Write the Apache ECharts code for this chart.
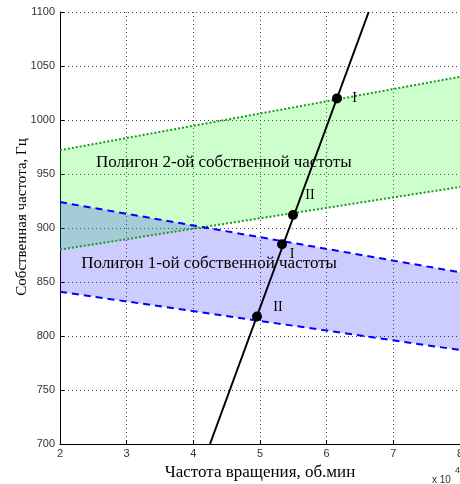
<!DOCTYPE html>
<html><head><meta charset="utf-8">
<script src="https://cdn.jsdelivr.net/npm/echarts@6/dist/echarts.min.js"></script>
<style>html,body{margin:0;padding:0;background:#fff}#c{width:460px;height:484px}</style>
</head><body><div id="c"></div>
<script>
// X in units of 10^4 rpm, Y in Hz
const xRange = [2, 8];
const yRange = [700, 1100];
const xTicks = [2, 3, 4, 5, 6, 7, 8];
const yTicks = [700, 750, 800, 850, 900, 950, 1000, 1050, 1100];

// Polygon of 2nd natural frequency (green): upper and lower boundaries
const band2Upper = [[2, 972], [8, 1040]];
const band2Lower = [[2, 880], [8, 938]];
// Polygon of 1st natural frequency (blue)
const band1Upper = [[2, 924], [8, 859]];
const band1Lower = [[2, 841], [8, 787]];

// Rotation frequency line
const rotLine = [[4.25, 700], [6.63, 1100]];
// Intersection points
const points = [[6.155, 1020], [5.495, 912], [5.33, 885], [4.955, 818]];
// Point labels
const pointLabels = [
  {pos: [6.42, 1020], text: 'I'},
  {pos: [5.75, 930], text: 'II'},
  {pos: [5.48, 876], text: 'I'},
  {pos: [5.27, 827], text: 'II'}
];
const polyLabels = [
  {pos: [2.54, 961], text: 'Полигон 2-ой собственной частоты'},
  {pos: [2.32, 867], text: 'Полигон 1-ой собственной частоты'}
];

function polygon(upper, lower) {
  return upper.concat(lower.slice().reverse());
}

const chart = echarts.init(document.getElementById('c'), null, {renderer: 'canvas'});

function polySeries(pts, color, z) {
  return {
    type: 'custom', z: z, silent: true,
    data: [0],
    renderItem: function (params, api) {
      return {
        type: 'polygon',
        shape: {points: pts.map(p => api.coord(p))},
        style: {fill: color}
      };
    },
    clip: true
  };
}
function lineSeries(data, color, type, width, z) {
  return {
    type: 'line', data: data, symbol: 'none', z: z, silent: true,
    lineStyle: {color: color, type: type, width: width}
  };
}

const serif = 'Liberation Serif';
chart.setOption({
  animation: false,
  grid: {left: 60, right: 0, top: 12, bottom: 40, containLabel: false, outerBoundsMode: 'none'},
  xAxis: {
    type: 'value', min: xRange[0], max: xRange[1], interval: 1,
    name: 'Частота вращения, об.мин', nameLocation: 'middle', nameGap: 14,
    nameTextStyle: {fontFamily: serif, fontSize: 17, color: '#000'},
    axisLine: {lineStyle: {color: '#000', width: 1}},
    axisTick: {inside: true, length: 4, lineStyle: {color: '#000'}},
    axisLabel: {color: '#333', fontFamily: 'Liberation Sans', fontSize: 11, margin: 4,
      formatter: v => xTicks.includes(v) ? String(v) : ''},
    splitLine: {show: true, lineStyle: {color: '#444', type: [1, 3], width: 1}}
  },
  yAxis: {
    type: 'value', min: yRange[0], max: yRange[1], interval: 50,
    axisLine: {show: true, lineStyle: {color: '#000', width: 1}},
    axisTick: {show: true, inside: true, length: 4, lineStyle: {color: '#000'}},
    axisLabel: {color: '#333', fontFamily: 'Liberation Sans', fontSize: 11, margin: 5,
      formatter: v => yTicks.includes(v) ? String(v) : ''},
    splitLine: {show: true, lineStyle: {color: '#444', type: [1, 3], width: 1}}
  },
  series: [
    polySeries(polygon(band2Upper, band2Lower), 'rgba(0,255,0,0.2)', 1),
    polySeries(polygon(band1Upper, band1Lower), 'rgba(0,0,255,0.2)', 2),
    lineSeries(band2Upper, '#1a9a1a', [2, 2], 2, 3),
    lineSeries(band2Lower, '#1a9a1a', [2, 2], 2, 3),
    lineSeries(band1Upper, '#0000ff', [7, 5], 2, 4),
    lineSeries(band1Lower, '#0000ff', [7, 5], 2, 4),
    lineSeries(rotLine, '#000', 'solid', 2, 5),
    {type: 'scatter', data: points, symbol: 'circle', symbolSize: 10, z: 6,
      itemStyle: {color: '#000', opacity: 1}, silent: true},
    {type: 'scatter', data: pointLabels.map(l => ({value: l.pos, name: l.text})),
      symbolSize: 0, z: 7, silent: true, itemStyle: {opacity: 1},
      label: {show: true, position: 'inside', formatter: p => p.name,
        fontFamily: serif, fontSize: 14, color: '#000'}},
    {type: 'scatter', data: polyLabels.map(l => ({value: l.pos, name: l.text})),
      symbolSize: 0, z: 7, silent: true, itemStyle: {opacity: 1},
      label: {show: true, position: 'right', distance: 0, formatter: p => p.name,
        fontFamily: serif, fontSize: 17, color: '#000'}}
  ],
  graphic: [
    {type: 'text', x: 22, y: 217, rotation: Math.PI / 2,
      style: {text: 'Собственная частота, Гц', font: '15px "Liberation Serif"', fill: '#000',
        align: 'center', verticalAlign: 'middle'}},
    {type: 'text', left: 432, top: 475, style: {text: 'x 10', font: '10px "Liberation Sans"', fill: '#333'}},
    {type: 'text', left: 455, top: 466, style: {text: '4', font: '9px "Liberation Sans"', fill: '#333'}}
  ]
});
</script></body></html>
